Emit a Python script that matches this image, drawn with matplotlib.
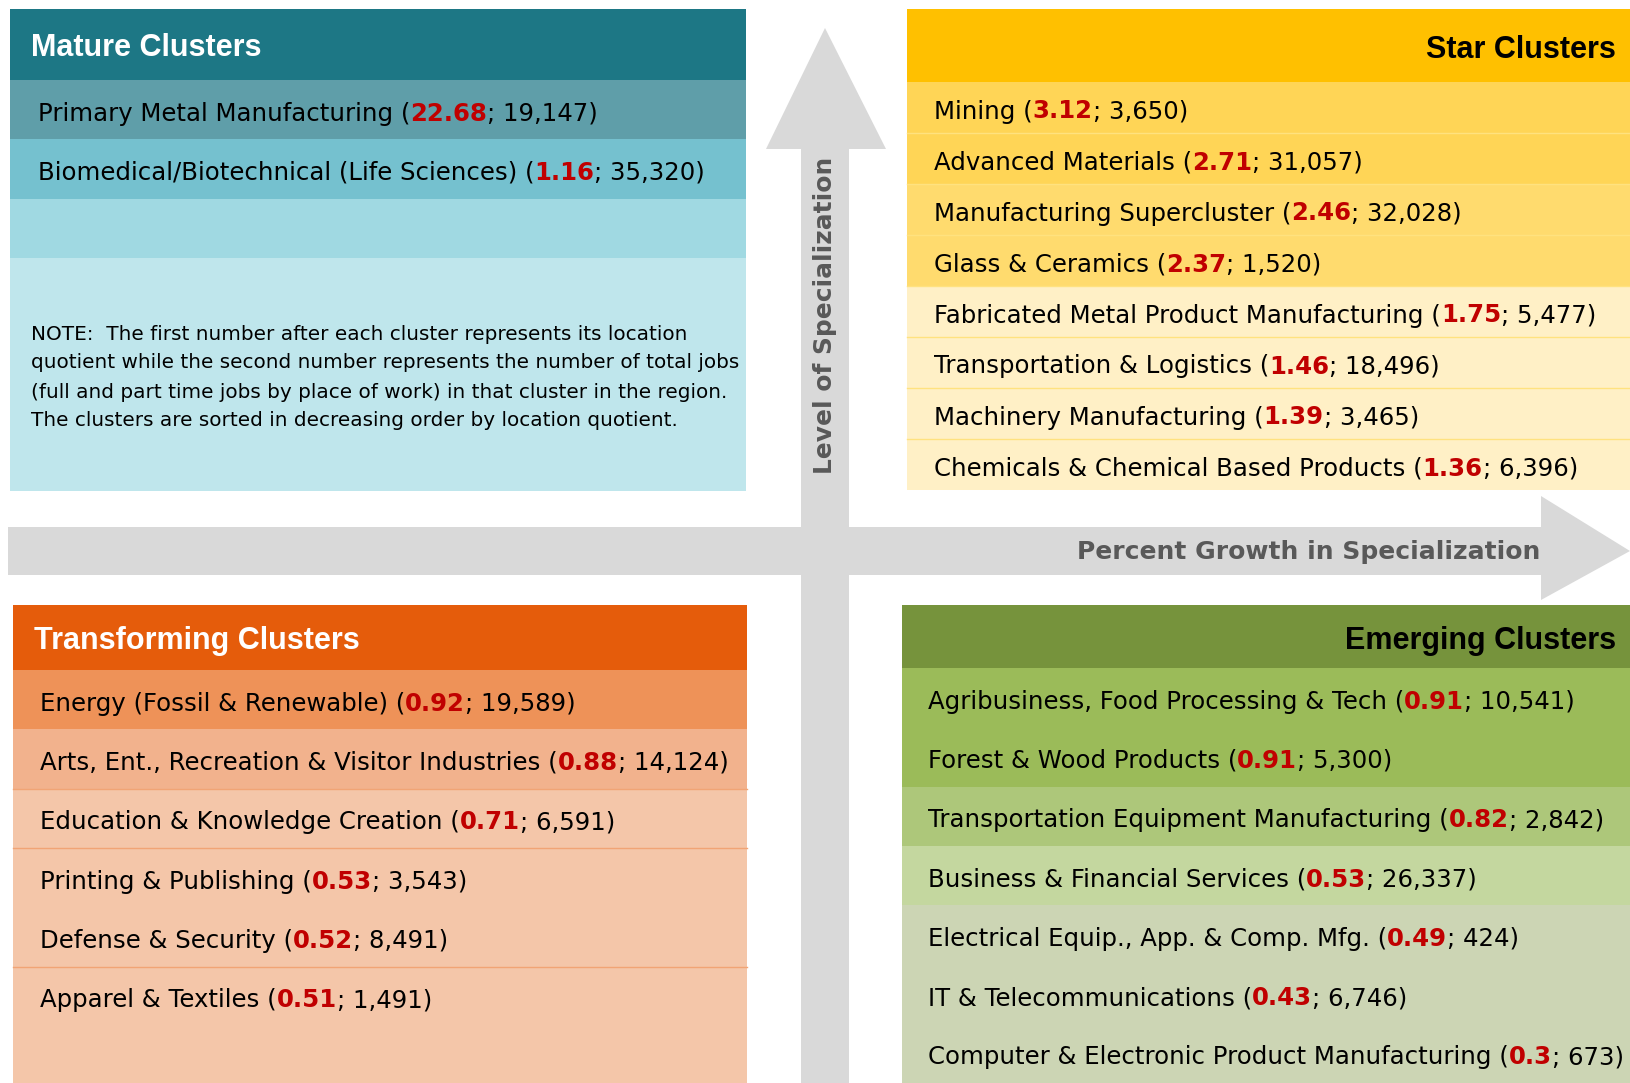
import matplotlib
matplotlib.use('Agg')
import matplotlib.pyplot as plt
from matplotlib.patches import Rectangle, Polygon

# cluster data: name, location quotient, total jobs
mature_names = ['Primary Metal Manufacturing', 'Biomedical/Biotechnical (Life Sciences)']
mature_lq = [22.68, 1.16]
mature_jobs = [19147, 35320]

star_names = ['Mining', 'Advanced Materials', 'Manufacturing Supercluster', 'Glass & Ceramics',
              'Fabricated Metal Product Manufacturing', 'Transportation & Logistics',
              'Machinery Manufacturing', 'Chemicals & Chemical Based Products']
star_lq = [3.12, 2.71, 2.46, 2.37, 1.75, 1.46, 1.39, 1.36]
star_jobs = [3650, 31057, 32028, 1520, 5477, 18496, 3465, 6396]

transforming_names = ['Energy (Fossil & Renewable)', 'Arts, Ent., Recreation & Visitor Industries',
                      'Education & Knowledge Creation', 'Printing & Publishing',
                      'Defense & Security', 'Apparel & Textiles']
transforming_lq = [0.92, 0.88, 0.71, 0.53, 0.52, 0.51]
transforming_jobs = [19589, 14124, 6591, 3543, 8491, 1491]

emerging_names = ['Agribusiness, Food Processing & Tech', 'Forest & Wood Products',
                  'Transportation Equipment Manufacturing', 'Business & Financial Services',
                  'Electrical Equip., App. & Comp. Mfg.', 'IT & Telecommunications',
                  'Computer & Electronic Product Manufacturing']
emerging_lq = [0.91, 0.91, 0.82, 0.53, 0.49, 0.43, 0.3]
emerging_jobs = [10541, 5300, 2842, 26337, 424, 6746, 673]

note_lines = ['NOTE:  The first number after each cluster represents its location',
              'quotient while the second number represents the number of total jobs',
              '(full and part time jobs by place of work) in that cluster in the region.',
              'The clusters are sorted in decreasing order by location quotient.']

W, H = 1630, 1083
RED = '#C00000'
GRAY = '#D9D9D9'
AXIS_TXT = '#595959'
BODY = ['DejaVu Sans']
HEAD = ['Liberation Sans', 'DejaVu Sans']
BODY_SIZE = 17.6

fig = plt.figure(figsize=(W / 100, H / 100), dpi=100)
ax = fig.add_axes([0, 0, 1, 1])
ax.set_xlim(0, W)
ax.set_ylim(H, 0)
ax.axis('off')
renderer = fig.canvas.get_renderer()


def rich_row(x, y, name, lq, jobs):
    # name ( red bold number ; jobs )
    parts = [(name + ' (', 'black', 'normal'), (f'{lq:g}', RED, 'bold'),
             (f'; {jobs:,})', 'black', 'normal')]
    for s, c, w in parts:
        t = ax.text(x, y, s, color=c, fontsize=BODY_SIZE, fontweight=w, va='center',
                    ha='left', family=BODY)
        x += t.get_window_extent(renderer).width


def panel(x0, x1, top, head_h, row_h, bottom, head_col, title, title_col, title_right,
          row_cols, fill_col, names, lqs, jobs, text_x, seps=(), sep_col=None):
    ax.add_patch(Rectangle((x0, top), x1 - x0, head_h, color=head_col, lw=0))
    y = top + head_h
    ax.add_patch(Rectangle((x0, y), x1 - x0, bottom - y, color=fill_col, lw=0))
    for i, c in enumerate(row_cols):
        ax.add_patch(Rectangle((x0, y + i * row_h), x1 - x0, row_h, color=c, lw=0))
    for i in seps:
        ax.plot([x0, x1], [y + i * row_h] * 2, color=sep_col, lw=1)
    for i, (n, q, j) in enumerate(zip(names, lqs, jobs)):
        rich_row(text_x, y + (i + 0.5) * row_h + 4, n, q, j)
    kw = dict(color=title_col, fontsize=22, fontweight='bold', family=HEAD, va='center')
    if title_right:
        ax.text(x1 - 14, top + head_h / 2 + 4, title, ha='right', **kw)
    else:
        ax.text(x0 + 21, top + head_h / 2 + 4, title, ha='left', **kw)


# gray axes arrows
vx0, vx1 = 801, 849
hy0, hy1 = 527, 575
ax.add_patch(Polygon([(8, hy0), (1541, hy0), (1541, 496), (W, (hy0 + hy1) / 2),
                      (1541, 600), (1541, hy1), (8, hy1)], closed=True, color=GRAY, lw=0))
ax.add_patch(Polygon([(vx0, H), (vx0, 149), (766, 149), ((vx0 + vx1) / 2, 28),
                      (886, 149), (vx1, 149), (vx1, H)], closed=True, color=GRAY, lw=0))
ax.text((vx0 + vx1) / 2, 315, 'Level of Specialization', rotation=90, color=AXIS_TXT,
        fontsize=17.9, fontweight='bold', family=BODY, ha='center', va='center')
ax.text(1540, (hy0 + hy1) / 2 + 1, 'Percent Growth in Specialization', color=AXIS_TXT,
        fontsize=18, fontweight='bold', family=BODY, ha='right', va='center')

# Mature
panel(10, 746, 9, 71, 59.3, 491, '#1D7785', 'Mature Clusters', 'white', False,
      ['#5F9EA9', '#75C1CF', '#A0D9E2'], '#BFE6EC', mature_names, mature_lq, mature_jobs, 38)
for i, line in enumerate(note_lines):
    ax.text(31, 334 + i * 29, line, fontsize=14.4, family=BODY, color='black', va='center')

# Star
panel(907, W, 9, 73, 51, 490, '#FFC000', 'Star Clusters', 'black', True,
      ['#FFD556', '#FFD556', '#FFDB6E', '#FFDB6E', '#FFF0C6', '#FFF0C6', '#FFF0C6', '#FFF0C6'],
      '#FFF0C6', star_names, star_lq, star_jobs, 934, seps=range(1, 8), sep_col='#FFE27F')

# Transforming
panel(13, 747, 605, 65, 59.3, H, '#E55C0B', 'Transforming Clusters', 'white', False,
      ['#EE9258', '#F2B28D'], '#F4C6A9', transforming_names, transforming_lq, transforming_jobs,
      40, seps=(2, 3, 5), sep_col='#F1A475')

# Emerging
panel(902, W, 605, 63, 59.3, H, '#76933C', 'Emerging Clusters', 'black', True,
      ['#9BBB59', '#9BBB59', '#ADC77A', '#C4D79F'], '#CCD5B4', emerging_names, emerging_lq,
      emerging_jobs, 928)

fig.savefig('out.png', dpi=100)
